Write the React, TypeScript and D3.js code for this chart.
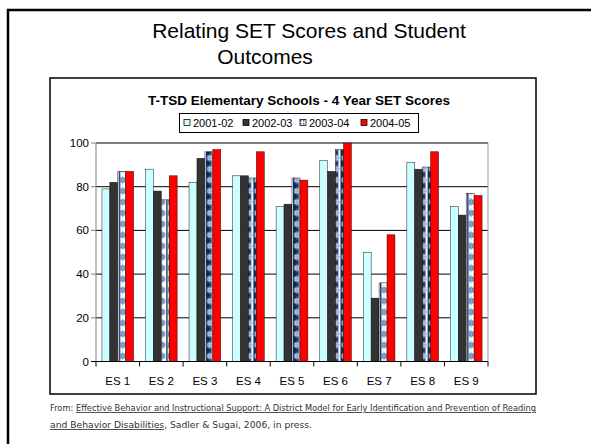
import React from "react";
import * as d3 from "d3";

const categories = ["ES 1", "ES 2", "ES 3", "ES 4", "ES 5", "ES 6", "ES 7", "ES 8", "ES 9"];
const seriesNames = ["2001-02", "2002-03", "2003-04", "2004-05"];
const s2001 = [79, 88, 82, 85, 71, 92, 50, 91, 71];
const s2002 = [82, 78, 93, 85, 72, 87, 29, 88, 67];
const s2003 = [87, 74, 96, 84, 84, 97, 36, 89, 77];
const s2004 = [87, 85, 97, 96, 83, 100, 58, 96, 76];
const yTicks = [0, 20, 40, 60, 80, 100];

const seriesValues = [s2001, s2002, s2003, s2004];
const colors = ["#CCFFFF", "#333333", "url(#pat)", "#FF0000"];
const darkPattern = [false, false, true, true, true, true, false, true, false];

const W = 591;
const H = 444;
const FONT = "'Liberation Sans', Arial, sans-serif";
const FOOT = "'DejaVu Sans', sans-serif";

export default function App() {
  const plot = { left: 96, right: 488, top: 143, bottom: 361.5 };
  const x0 = d3.scaleBand<string>().domain(categories).range([plot.left, plot.right]).padding(0);
  const bw = x0.bandwidth();
  const gap = (bw * 0.75) / 5.5;
  const x1 = d3.scaleBand<string>().domain(seriesNames).range([gap, bw - gap]).padding(0);
  const y = d3.scaleLinear().domain([0, 100]).range([plot.bottom, plot.top]);
  const w1 = x1.bandwidth();

  return (
    <svg width={W} height={H} style={{ position: "absolute", left: 0, top: 0, background: "#fff" }}>
      <defs>
        {categories.map((c, i) => {
          const px = (x0(c) as number) + (x1("2003-04") as number);
          const dark = darkPattern[i];
          return (
            <pattern key={c} id={`pat${i}`} patternUnits="userSpaceOnUse" x={px} y={plot.bottom} width={w1} height={11}>
              <rect width={w1} height={11} fill={dark ? "#0d2b5a" : "#ffffff"} />
              {!dark && <rect width={1.4} height={11} fill="#0d2b5a" />}
              {dark && <rect x={w1 - 2.2} width={2.2} height={11} fill="#ffffff" />}
              <rect x={w1 / 2 - 2.5} y={3} width={5} height={5} fill={dark ? "#b8c8e0" : "#5f7fae"} />
              <rect x={w1 / 2 - 1.2} y={4.3} width={2.4} height={2.4} fill={dark ? "#ffffff" : "#d7e0ee"} />
              <rect x={w1 / 2 - 0.6} y={1.5} width={1.2} height={8} fill={dark ? "#8aa2c8" : "#7e98c0"} />
              <rect x={w1 / 2 - 3.4} y={4.9} width={6.8} height={1.2} fill={dark ? "#8aa2c8" : "#7e98c0"} />
            </pattern>
          );
        })}
        <pattern id="legpat" patternUnits="userSpaceOnUse" x={0} y={0} width={3} height={3}>
          <rect width={3} height={3} fill="#ffffff" />
          <rect width={1.5} height={1.5} fill="#3b5f92" />
        </pattern>
      </defs>

      {/* slide border */}
      <rect x={8} y={10} width={W} height={H} fill="none" stroke="#000" strokeWidth={2.5} />

      {/* slide title */}
      <text x={309} y={38} textAnchor="middle" fontFamily={FONT} fontSize={21} fill="#000">
        Relating SET Scores and Student
      </text>
      <text x={265} y={64} textAnchor="middle" fontFamily={FONT} fontSize={21} fill="#000">
        Outcomes
      </text>

      {/* chart frame */}
      <rect x={50} y={78} width={486} height={316} fill="#fff" stroke="#000" strokeWidth={1.5} />

      {/* chart title */}
      <text x={299} y={105} textAnchor="middle" fontFamily={FONT} fontSize={13.5} fontWeight="bold" fill="#000">
        T-TSD Elementary Schools - 4 Year SET Scores
      </text>

      {/* legend */}
      <rect x={179.5} y={113.5} width={239} height={19} fill="#fff" stroke="#000" strokeWidth={1} />
      {seriesNames.map((s, i) => {
        const lx = [184, 243, 300, 361][i];
        return (
          <g key={s}>
            <rect x={lx} y={119.5} width={6} height={6} fill={i === 2 ? "url(#legpat)" : colors[i]} stroke="#000" strokeWidth={0.75} />
            <text x={lx + 9} y={127} fontFamily={FONT} fontSize={11} fill="#000">{s}</text>
          </g>
        );
      })}

      {/* gridlines */}
      {yTicks.filter((t) => t > 0).map((t) => (
        <line key={t} x1={plot.left} x2={plot.right} y1={y(t)} y2={y(t)} stroke="#000" strokeWidth={1} />
      ))}
      {/* plot right border */}
      <line x1={plot.right} x2={plot.right} y1={plot.top} y2={plot.bottom} stroke="#999" strokeWidth={1} />

      {/* bars */}
      {categories.map((c, i) => (
        <g key={c} transform={`translate(${x0(c)},0)`}>
          {seriesNames.map((s, j) => {
            const v = seriesValues[j][i];
            return (
              <rect
                key={s}
                x={x1(s) as number}
                y={y(v)}
                width={w1}
                height={plot.bottom - y(v)}
                fill={j === 2 ? `url(#pat${i})` : colors[j]}
                stroke="#000"
                strokeOpacity={0.75}
                strokeWidth={0.6}
              />
            );
          })}
        </g>
      ))}

      {/* y axis */}
      <line x1={plot.left} x2={plot.left} y1={plot.top} y2={plot.bottom} stroke="#808080" strokeWidth={1} />
      {yTicks.map((t) => (
        <g key={t}>
          <line x1={plot.left - 5} x2={plot.left} y1={y(t)} y2={y(t)} stroke="#808080" strokeWidth={1} />
          <text x={89} y={y(t) + 4} textAnchor="end" fontFamily={FONT} fontSize={11.5} fill="#000">{t}</text>
        </g>
      ))}

      {/* x axis */}
      <line x1={plot.left - 5} x2={plot.right} y1={plot.bottom} y2={plot.bottom} stroke="#000" strokeWidth={1} />
      {categories.map((c) => (
        <line key={c} x1={x0(c) as number} x2={x0(c) as number} y1={plot.bottom} y2={plot.bottom + 5} stroke="#000" strokeWidth={1} />
      ))}
      <line x1={plot.right} x2={plot.right} y1={plot.bottom} y2={plot.bottom + 5} stroke="#000" strokeWidth={1} />
      {categories.map((c) => (
        <text key={c} x={(x0(c) as number) + bw / 2} y={385} textAnchor="middle" fontFamily={FONT} fontSize={11.5} fill="#000">
          {c}
        </text>
      ))}

      {/* footer */}
      <text x={50} y={411} fontFamily={FOOT} fontSize={8.5} fill="#333" textLength={486} lengthAdjust="spacingAndGlyphs">
        From:{" "}
        <tspan textDecoration="underline">
          Effective Behavior and Instructional Support: A District Model for Early Identification and Prevention of Reading
        </tspan>
      </text>
      <text x={50} y={428} fontFamily={FOOT} fontSize={8.5} fill="#333" textLength={262} lengthAdjust="spacingAndGlyphs">
        <tspan textDecoration="underline">and Behavior Disabilities</tspan>, Sadler &amp; Sugai, 2006, in press.
      </text>
    </svg>
  );
}
